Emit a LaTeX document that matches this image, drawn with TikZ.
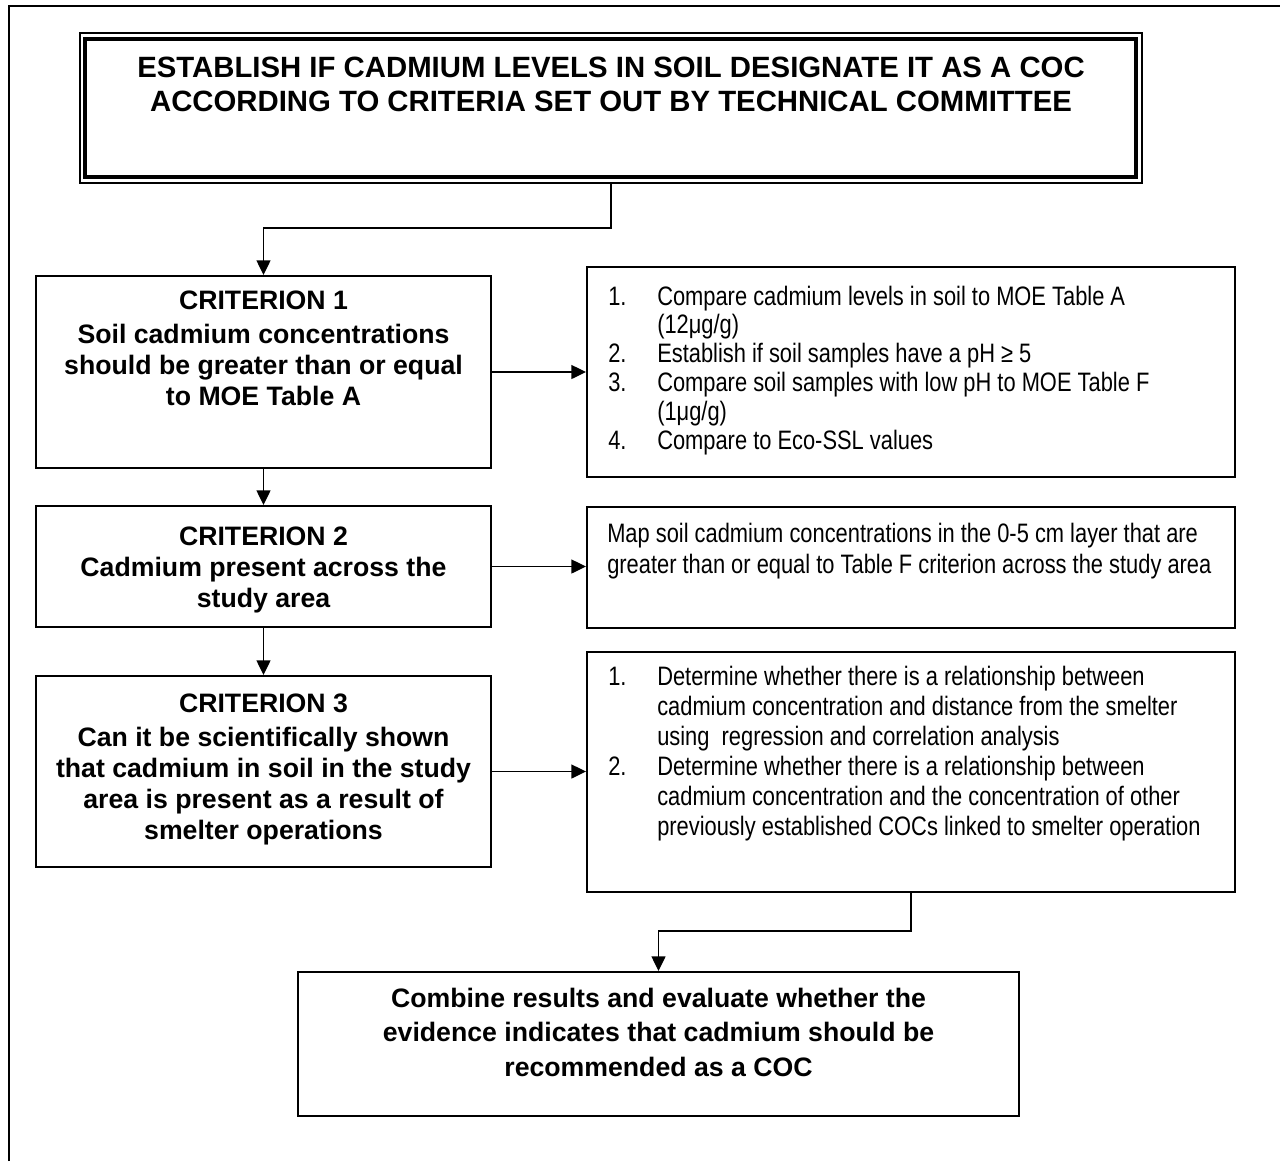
\documentclass[tikz,border=0pt]{standalone}
\usepackage{fontspec}
\setmainfont{Liberation Sans}
\newfontfamily\narrowfont[FakeStretch=0.82]{Liberation Sans}
\usetikzlibrary{arrows.meta,fit}
\newcommand{\numcol}[1]{\makebox[36.75pt][l]{#1}}
\newcommand{\indentcol}{\hspace*{36.75pt}}
\begin{document}
\begin{tikzpicture}[x=0.75pt,y=-0.75pt,
  box/.style={draw, line width=1.5pt, inner sep=0pt, rectangle},
  arr/.style={line width=1pt, -{Triangle[length=11pt,width=10.5pt]}},
  crit/.style={font=\fontsize{20pt}{23.25pt}\selectfont\bfseries, align=center, inner sep=0pt, anchor=north},
  heading/.style={font=\fontsize{22pt}{25.5pt}\selectfont\bfseries, align=center, inner sep=0pt, anchor=north},
  final/.style={font=\fontsize{20pt}{26pt}\selectfont\bfseries, align=center, inner sep=0pt, anchor=north},
  steps/.style={font=\narrowfont\fontsize{20pt}{21.6pt}\selectfont, align=left, inner sep=0pt, anchor=north west},
]
\useasboundingbox (0,0) rectangle (1280,1161);
% outer frame
\draw[line width=1.5pt] (9,1161) -- (9,6) -- (1280,6);

% top double box
\node[box, line width=1.5pt, fit={(80,33)(1142,183)}] (topo) {};
\node[box, line width=2.4pt, fit={(85,39)(1136,177)}] (topi) {};
\node[heading] (toptext) at (611,57) {ESTABLISH IF CADMIUM LEVELS IN SOIL DESIGNATE IT AS A COC\\ACCORDING TO CRITERIA SET OUT BY TECHNICAL COMMITTEE};

% criteria boxes
\node[box, fit={(36,276)(491,468)}] (c1) {};
\node[box, fit={(36,506)(491,627)}] (c2) {};
\node[box, fit={(36,676)(491,867)}] (c3) {};

\node[crit] (c1t) at (263.5,290.5) {CRITERION 1\\[2pt]Soil cadmium concentrations\\should be greater than or equal\\to MOE Table A};
\node[crit] (c2t) at (263.5,526.5) {CRITERION 2\\Cadmium present across the\\study area};
\node[crit] (c3t) at (263.5,693.5) {CRITERION 3\\[2pt]Can it be scientifically shown\\that cadmium in soil in the study\\area is present as a result of\\smelter operations};

% right boxes
\node[box, fit={(587,267)(1235,477)}] (r1) {};
\node[box, fit={(587,507)(1235,628)}] (r2) {};
\node[box, fit={(587,652)(1235,892)}] (r3) {};

\node[steps] (r1t) at (608,285.5) {\numcol{1.}Compare cadmium levels in soil to MOE Table A\\
\indentcol(12μg/g)\\
\numcol{2.}Establish if soil samples have a pH ≥ 5\\
\numcol{3.}Compare soil samples with low pH to MOE Table F\\
\indentcol(1μg/g)\\
\numcol{4.}Compare to Eco-SSL values};

\node[steps, font=\narrowfont\fontsize{20pt}{23pt}\selectfont] (r2t) at (607,523) {Map soil cadmium concentrations in the 0-5 cm layer that are\\greater than or equal to Table F criterion across the study area};

\node[steps, font=\narrowfont\fontsize{20pt}{22.5pt}\selectfont] (r3t) at (608,666) {\numcol{1.}Determine whether there is a relationship between\\
\indentcol cadmium concentration and distance from the smelter\\
\indentcol using\ \ regression and correlation analysis\\
\numcol{2.}Determine whether there is a relationship between\\
\indentcol cadmium concentration and the concentration of other\\
\indentcol previously established COCs linked to smelter operation};

% bottom box
\node[box, fit={(298,972)(1019,1116)}] (bot) {};
\node[final] (bott) at (658.5,987.5) {Combine results and evaluate whether the\\evidence indicates that cadmium should be\\recommended as a COC};

% connectors
\coordinate (j1) at (263.5,228);
\coordinate (j2) at (658.5,931);
\draw[arr] (topo.south) |- (j1) -- (c1.north);
\draw[arr] (c1) -- (c2);
\draw[arr] (c2) -- (c3);
\draw[arr] (c1.east) -- (c1.east -| r1.west);
\draw[arr] (c2.east) -- (c2.east -| r2.west);
\draw[arr] (c3.east) -- (c3.east -| r3.west);
\draw[arr] (r3.south) |- (j2) -- (bot.north);
\end{tikzpicture}
\end{document}
